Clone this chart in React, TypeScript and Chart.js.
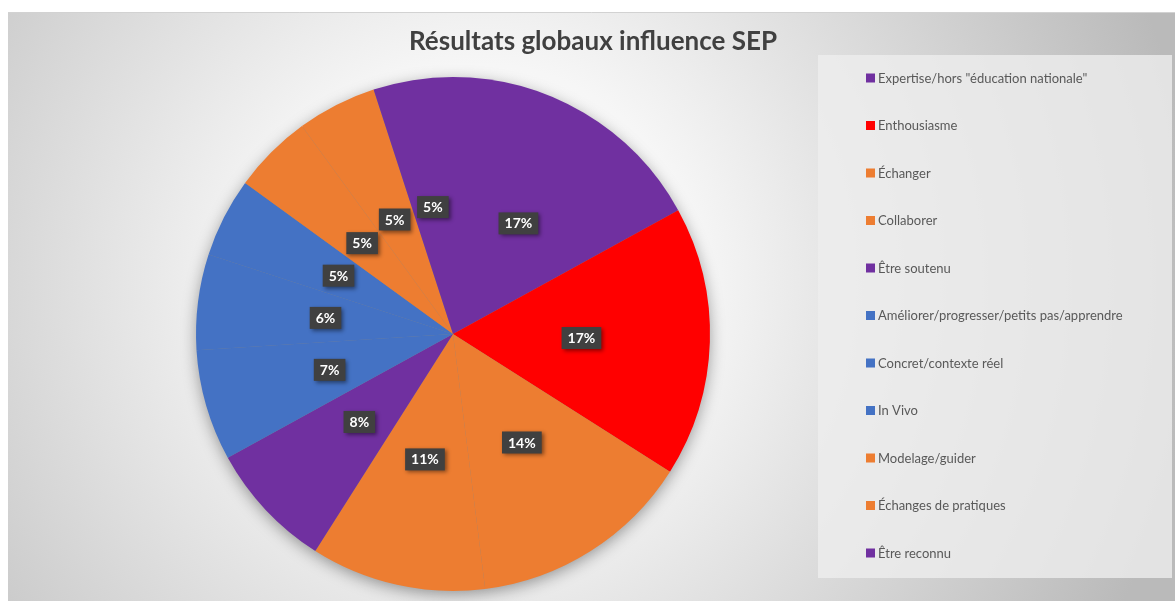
import React, { useEffect, useRef } from "react";
import { Chart, registerables } from "chart.js";

Chart.register(...registerables);

const chartTitle = "Résultats globaux influence SEP";
const categories = [
  'Expertise/hors "éducation nationale"',
  "Enthousiasme",
  "Échanger",
  "Collaborer",
  "Être soutenu",
  "Améliorer/progresser/petits pas/apprendre",
  "Concret/contexte réel",
  "In Vivo",
  "Modelage/guider",
  "Échanges de pratiques",
  "Être reconnu",
];
const values = [17, 17, 14, 11, 8, 7, 6, 5, 5, 5, 5];
const colors = [
  "#7030A0",
  "#FF0000",
  "#ED7D31",
  "#ED7D31",
  "#7030A0",
  "#4472C4",
  "#4472C4",
  "#4472C4",
  "#ED7D31",
  "#ED7D31",
  "#7030A0",
];

const W = 1175;
const H = 601;
const FONT = "Lato, 'Open Sans', sans-serif";

const decorPlugin = {
  id: "decor",
  beforeDraw(chart: any) {
    const ctx = chart.ctx as CanvasRenderingContext2D;
    ctx.save();
    ctx.fillStyle = "#ffffff";
    ctx.fillRect(0, 0, W, H);
    const g = ctx.createRadialGradient(480, 280, 0, 480, 280, 720);
    g.addColorStop(0, "#ffffff");
    g.addColorStop(0.3, "#f6f6f6");
    g.addColorStop(1, "#bababa");
    ctx.fillStyle = g;
    ctx.fillRect(8, 12, W - 8, H - 12);
    ctx.strokeStyle = "#d2d2d2";
    ctx.lineWidth = 1;
    ctx.beginPath();
    ctx.moveTo(8, 12.5);
    ctx.lineTo(W, 12.5);
    ctx.stroke();
    // title
    ctx.fillStyle = "#404040";
    ctx.font = `bold 26px ${FONT}`;
    ctx.textAlign = "center";
    ctx.textBaseline = "middle";
    ctx.fillText(chartTitle, 593, 42);
    // legend box
    ctx.fillStyle = "rgba(238,238,238,0.8)";
    ctx.fillRect(818, 55, 354, 523);
    // legend items
    ctx.font = `13px ${FONT}`;
    ctx.textAlign = "left";
    const labels = chart.data.labels as string[];
    const bg = chart.data.datasets[0].backgroundColor as string[];
    labels.forEach((lab, i) => {
      const y = 78 + i * 47.5;
      ctx.fillStyle = bg[i];
      ctx.fillRect(866, y - 4.5, 9, 9);
      ctx.fillStyle = "#595959";
      ctx.fillText(lab, 878, y + 0.5);
    });
    ctx.restore();
  },
  beforeDatasetsDraw(chart: any) {
    const ctx = chart.ctx as CanvasRenderingContext2D;
    const arc = chart.getDatasetMeta(0).data[0];
    if (!arc) return;
    const { x, y, outerRadius } = arc.getProps(["x", "y", "outerRadius"], true);
    ctx.save();
    ctx.shadowColor = "rgba(0,0,0,0.4)";
    ctx.shadowBlur = 16;
    ctx.shadowOffsetY = 4;
    ctx.fillStyle = "#888";
    ctx.beginPath();
    ctx.arc(x, y, outerRadius - 1, 0, Math.PI * 2);
    ctx.fill();
    ctx.restore();
  },
  afterDatasetsDraw(chart: any) {
    const ctx = chart.ctx as CanvasRenderingContext2D;
    const meta = chart.getDatasetMeta(0);
    const data = chart.data.datasets[0].data as number[];
    const total = data.reduce((a, b) => a + b, 0);
    ctx.save();
    ctx.font = `bold 14px ${FONT}`;
    ctx.textAlign = "center";
    ctx.textBaseline = "middle";
    meta.data.forEach((el: any, i: number) => {
      const p = el.getCenterPoint();
      const txt = Math.round((data[i] / total) * 100) + "%";
      const tw = ctx.measureText(txt).width;
      const bw = tw + 12;
      const bh = 22;
      ctx.save();
      ctx.shadowColor = "rgba(0,0,0,0.45)";
      ctx.shadowBlur = 4;
      ctx.shadowOffsetX = 2;
      ctx.shadowOffsetY = 2;
      ctx.fillStyle = "#404040";
      ctx.fillRect(p.x - bw / 2, p.y - bh / 2, bw, bh);
      ctx.restore();
      ctx.fillStyle = "#ffffff";
      ctx.fillText(txt, p.x, p.y + 0.5);
    });
    ctx.restore();
  },
};

export default function App() {
  const ref = useRef<HTMLCanvasElement | null>(null);
  useEffect(() => {
    if (!ref.current) return;
    const chart = new Chart(ref.current, {
      type: "pie",
      data: {
        labels: categories,
        datasets: [
          {
            data: values,
            backgroundColor: colors,
            borderWidth: 0,
          },
        ],
      },
      options: {
        animation: false,
        responsive: false,
        devicePixelRatio: 1,
        layout: { padding: { left: 196, right: 465, top: 77, bottom: 10 } },
        plugins: {
          legend: { display: false },
          title: { display: false },
          tooltip: { enabled: false },
        },
      },
      plugins: [decorPlugin],
    });
    return () => chart.destroy();
  }, []);
  return (
    <div style={{ position: "fixed", left: 0, top: 0, width: W, height: H }}>
      <canvas ref={ref} width={W} height={H} style={{ width: W, height: H, display: "block" }} />
    </div>
  );
}
